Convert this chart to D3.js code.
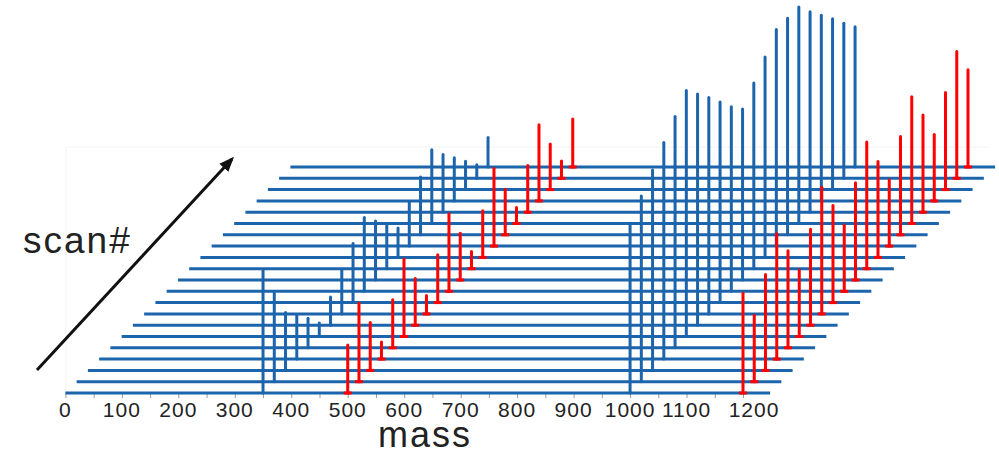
<!DOCTYPE html>
<html>
<head>
<meta charset="utf-8">
<script src="https://cdn.jsdelivr.net/npm/d3@7"></script>
<style>
  body { margin: 0; background: #fff; }
  text { font-family: "Liberation Sans", Arial, sans-serif; fill: #222; }
</style>
</head>
<body>
<div id="chart"></div>
<script>
var w = 999;
var h = 455;

// scan numbers (front to back)
var scans = [1, 2, 3, 4, 5, 6, 7, 8, 9, 10, 11, 12, 13, 14, 15, 16, 17, 18, 19, 20, 21];

// peak masses
var masses = [350, 500, 1000, 1200];

// intensities per scan (relative, %)
var blue350 = [50, 36.5, 23.5, 18, 12, 5.5, 11.5, 18, 24, 30, 24, 18, 12, 18, 23.5, 30, 23.5, 17.5, 11.5, 5.5, 12];
var red500 = [19.5, 32, 19.5, 7, 19.5, 31.5, 19, 7.5, 19.5, 31.5, 19, 7, 19, 31.5, 18.5, 6.5, 19, 31, 18.5, 7, 19.5];
var blue1000 = [69, 75.5, 81.5, 88, 94, 100, 94, 88, 81.5, 75, 69.5, 75.5, 81.5, 88, 88, 88, 81.5, 75.5, 69.5, 63, 57];
var red1200 = [40.5, 27, 39, 51, 39.5, 27, 39, 51.5, 39.5, 27, 39.5, 51.5, 39, 27, 40, 51.5, 39.5, 27, 39.5, 51.5, 39.5];

// axis
var tickValues = [0, 50, 100, 150, 200, 250, 300, 350, 400, 450, 500, 550, 600, 650, 700, 750, 800, 850, 900, 950, 1000, 1050, 1100, 1150, 1200];
var tickLabels = ["0", "100", "200", "300", "400", "500", "600", "700", "800", "900", "1000", "1100", "1200"];
var massExtent = [0, 1248];

var blue = "#1c64ab";
var red = "#ff0000";

var svg = d3
  .select("#chart")
  .append("svg")
  .attr("width", w)
  .attr("height", h);

// Scales
var xScale = d3.scaleLinear().domain([0, 1200]).range([65.4, 743]);
// depth: each scan shifts right and up
var shiftX = d3.scaleLinear().domain([1, 21]).range([0, 225]);
var baseY = d3.scaleLinear().domain([1, 21]).range([393, 167]);
var hScale = d3.scaleLinear().domain([0, 100]).range([0, 246]);

// faint plot frame
svg.append("path")
  .attr("d", "M66,393V147H990")
  .attr("fill", "none")
  .attr("stroke", "#f2f2f2")
  .attr("stroke-width", 1);

// Axis ticks under the front baseline
var axis = d3.axisBottom(xScale)
  .tickValues(tickValues)
  .tickSize(5)
  .tickPadding(4)
  .tickFormat("");

var gAxis = svg.append("g")
  .attr("transform", "translate(0," + baseY(1) + ")")
  .call(axis);
gAxis.select(".domain").remove();
gAxis.selectAll(".tick line").attr("stroke", "#999").attr("stroke-width", 1);

svg.append("g")
  .selectAll("text")
  .data(tickLabels)
  .enter()
  .append("text")
  .attr("x", function (d) { return xScale(+d); })
  .attr("dx", function (d, i) { return i === tickLabels.length - 1 ? 11 : 0; })
  .attr("y", baseY(1) + 24)
  .attr("text-anchor", "middle")
  .attr("font-size", 21)
  .attr("letter-spacing", 1)
  .text(function (d) { return d; });

// Baselines, one per scan
svg.append("g")
  .selectAll("line")
  .data(scans)
  .enter()
  .append("line")
  .attr("x1", function (d) { return xScale(massExtent[0]) + shiftX(d); })
  .attr("x2", function (d) { return xScale(massExtent[1]) + shiftX(d); })
  .attr("y1", function (d) { return baseY(d); })
  .attr("y2", function (d) { return baseY(d); })
  .attr("stroke", blue)
  .attr("stroke-width", 3);

// Build stick data
var series = [
  { mass: masses[0], values: blue350, color: blue },
  { mass: masses[2], values: blue1000, color: blue },
  { mass: masses[1], values: red500, color: red },
  { mass: masses[3], values: red1200, color: red }
];

series.forEach(function (s) {
  var sticks = scans.map(function (scan, i) {
    return { scan: scan, v: s.values[i] };
  });
  var g = svg.append("g");
  g.selectAll("line")
    .data(sticks)
    .enter()
    .append("line")
    .attr("x1", function (d) { return xScale(s.mass) + shiftX(d.scan); })
    .attr("x2", function (d) { return xScale(s.mass) + shiftX(d.scan); })
    .attr("y1", function (d) { return baseY(d.scan); })
    .attr("y2", function (d) { return baseY(d.scan) - hScale(d.v); })
    .attr("stroke", s.color)
    .attr("stroke-width", 3)
    .attr("stroke-linecap", "round");

  // small foot on the red sticks
  if (s.color === red) {
    g.selectAll("rect")
      .data(sticks)
      .enter()
      .append("rect")
      .attr("x", function (d) { return xScale(s.mass) + shiftX(d.scan) - 4; })
      .attr("y", function (d) { return baseY(d.scan) - 1.5; })
      .attr("width", 8)
      .attr("height", 3)
      .attr("fill", red);
  }
});

// scan# arrow
svg.append("defs")
  .append("marker")
  .attr("id", "arrow")
  .attr("viewBox", "0 0 10 10")
  .attr("refX", 8)
  .attr("refY", 5)
  .attr("markerWidth", 5)
  .attr("markerHeight", 5)
  .attr("orient", "auto")
  .append("path")
  .attr("d", "M0,1L10,5L0,9Z")
  .attr("fill", "#111");

svg.append("line")
  .attr("x1", 37)
  .attr("y1", 370)
  .attr("x2", 232)
  .attr("y2", 159)
  .attr("stroke", "#111")
  .attr("stroke-width", 3)
  .attr("marker-end", "url(#arrow)");

svg.append("text")
  .attr("x", 23)
  .attr("y", 253)
  .attr("font-size", 37)
  .attr("letter-spacing", 2)
  .text("scan#");

svg.append("text")
  .attr("x", 378)
  .attr("y", 447)
  .attr("font-size", 36)
  .attr("letter-spacing", 2)
  .text("mass");
</script>
</body>
</html>
